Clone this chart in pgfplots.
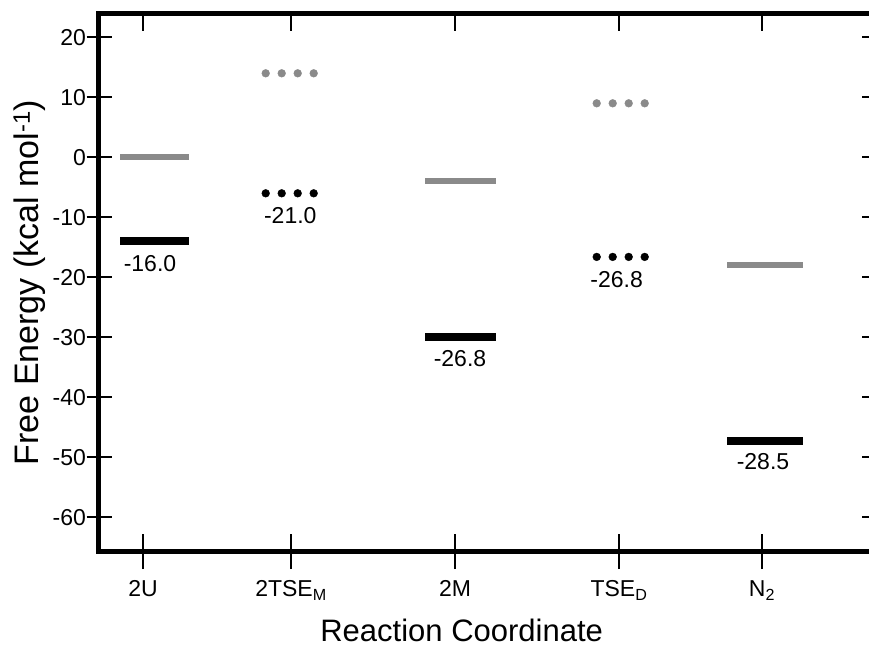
\documentclass[border=0pt]{standalone}
\usepackage{fontspec}
\setmainfont{Liberation Sans}
\usepackage{pgfplots}
\pgfplotsset{compat=1.18}
\definecolor{lvgray}{RGB}{138,138,138}
\pgfplotsset{
  geom/.style={
    at={(0pt,0pt)}, anchor=south west,
    scale only axis, width=770pt, height=538.4pt,
    xmin=99, xmax=869, ymin=-65.73, ymax=24,
    axis line style={draw=none},
  },
}
\begin{document}
\begin{tikzpicture}
\useasboundingbox (-99pt,-104.3pt) rectangle (770pt,551.7pt);
% main axis: data, bottom ticks and labels
\begin{axis}[
  geom,
  axis x line*=bottom, axis y line*=left,
  xtick pos=left, ytick pos=left,
  xtick={143,291,455,619,762},
  xticklabels={2U, 2TSE\textsubscript{M}, 2M, TSE\textsubscript{D}, N\textsubscript{2}},
  ytick=\empty,
  tick align=center,
  major tick length=35pt,
  xtick style={line width=2pt, black},
  xticklabel style={font=\fontsize{23}{27}\selectfont, yshift=-8pt},
  xlabel={Reaction Coordinate},
  ylabel={Free Energy (kcal mol\textsuperscript{-1})},
  xlabel style={font=\fontsize{31}{36}\selectfont, at={(axis description cs:0.471,-0.147)}, anchor=center},
  ylabel style={font=\fontsize{34}{40}\selectfont, at={(axis description cs:-0.090,0.5)}, anchor=center},
  clip=false,
]
% ground-state levels (bars)
\addplot[lvgray, line width=6pt] coordinates {(120.5,0) (188.7,0)};
\addplot[black, line width=7.7pt] coordinates {(120.5,-14) (188.7,-14)};
\addplot[lvgray, line width=6pt] coordinates {(425,-3.9) (495.7,-3.9)};
\addplot[black, line width=7.7pt] coordinates {(425,-30) (495.7,-30)};
\addplot[lvgray, line width=6pt] coordinates {(727.3,-18) (803.3,-18)};
\addplot[black, line width=7.7pt] coordinates {(727.3,-47.3) (803.3,-47.3)};
% transition states (dotted levels)
\addplot[only marks, mark=*, mark size=3.9pt, lvgray] coordinates {(265.7,14) (281.7,14) (297.7,14) (313.7,14)};
\addplot[only marks, mark=*, mark size=3.9pt, black] coordinates {(265.7,-6) (281.7,-6) (297.7,-6) (313.7,-6)};
\addplot[only marks, mark=*, mark size=3.9pt, lvgray] coordinates {(596.7,9) (612.7,9) (628.7,9) (644.7,9)};
\addplot[only marks, mark=*, mark size=3.9pt, black] coordinates {(596.7,-16.6) (612.7,-16.6) (628.7,-16.6) (644.7,-16.6)};
% value labels
\node[font=\fontsize{23}{27}\selectfont] at (axis cs:150,-17.7) {-16.0};
\node[font=\fontsize{23}{27}\selectfont] at (axis cs:290.3,-9.75) {-21.0};
\node[font=\fontsize{23}{27}\selectfont] at (axis cs:460,-33.6) {-26.8};
\node[font=\fontsize{23}{27}\selectfont] at (axis cs:616.7,-20.45) {-26.8};
\node[font=\fontsize{23}{27}\selectfont] at (axis cs:763,-50.7) {-28.5};
% frame (left, top, bottom)
\draw[line width=5pt, line join=miter] (rel axis cs:1,1) -- (rel axis cs:0,1) -- (rel axis cs:0,0) -- (rel axis cs:1,0);
\end{axis}
% left y ticks and labels
\begin{axis}[
  geom,
  axis x line*=bottom, axis y line*=left,
  xtick=\empty, ytick pos=left,
  ytick={-60,-50,...,20},
  tick align=center,
  major tick length=25pt,
  ytick style={line width=2pt, black},
  yticklabel style={font=\fontsize{23}{27}\selectfont, xshift=3pt},
  /pgf/number format/assume math mode=true,
]
\end{axis}
% top ticks (inward)
\begin{axis}[
  geom,
  axis x line*=top, axis y line*=right,
  xtick pos=right, ytick=\empty,
  xtick={143,291,455,619,762},
  xticklabels={},
  tick align=inside,
  major tick length=17.5pt,
  xtick style={line width=2pt, black},
]
\end{axis}
% right ticks (inward)
\begin{axis}[
  geom,
  axis x line*=top, axis y line*=right,
  xtick=\empty, ytick pos=right,
  ytick={-60,-50,...,20},
  yticklabels={},
  tick align=inside,
  major tick length=7pt,
  ytick style={line width=2pt, black},
]
\end{axis}
\end{tikzpicture}
\end{document}
